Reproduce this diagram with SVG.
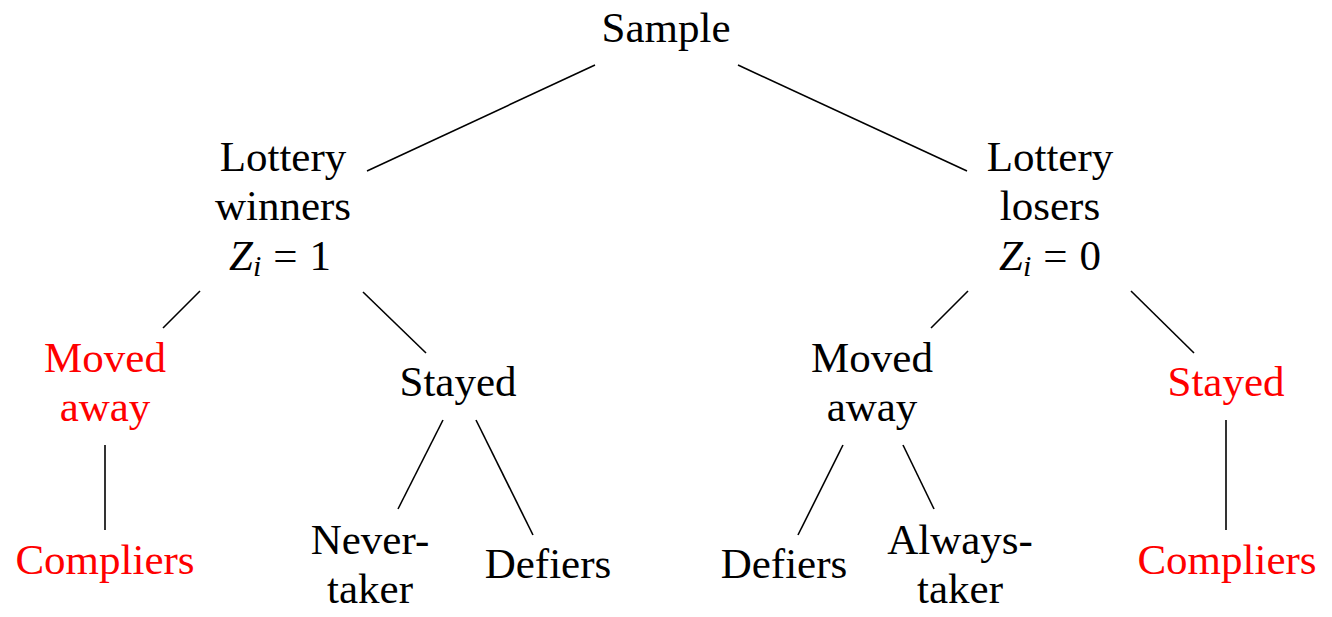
<svg xmlns="http://www.w3.org/2000/svg" width="1332" height="617" viewBox="0 0 1332 617">
<style>
text{font-family:"Liberation Serif","DejaVu Serif",serif;font-size:43px;text-anchor:middle;fill:#000}
.red{fill:#ff0000}
.e line{stroke:#000;stroke-width:1.6}
.m{font-style:italic}
.s{font-size:30px;font-style:italic}
</style>
<rect width="1332" height="617" fill="#fff"/>
<g class="e" id="connectors">
<line x1="595" y1="65" x2="367" y2="171"/>
<line x1="738" y1="65" x2="967" y2="171"/>
<line x1="200" y1="291" x2="163" y2="328"/>
<line x1="363" y1="292" x2="426" y2="353"/>
<line x1="105" y1="445" x2="105" y2="530"/>
<line x1="443" y1="420" x2="398" y2="509"/>
<line x1="476" y1="420" x2="533" y2="535"/>
<line x1="968" y1="291" x2="931" y2="328"/>
<line x1="1131" y1="291" x2="1194" y2="353"/>
<line x1="843" y1="445" x2="798" y2="535"/>
<line x1="903" y1="445" x2="934" y2="509"/>
<line x1="1226" y1="420" x2="1226" y2="530"/>
</g>
<g id="sample"><text x="666" y="42">Sample</text></g>
<g id="winners">
<text x="283" y="171">Lottery</text>
<text x="283" y="220">winners</text>
<text x="280" y="270"><tspan class="m">Z</tspan><tspan class="s" dy="6">i</tspan><tspan dy="-6" dx="12">=</tspan><tspan dx="12">1</tspan></text>
</g>
<g id="losers">
<text x="1050" y="171">Lottery</text>
<text x="1050" y="220">losers</text>
<text x="1050" y="270"><tspan class="m">Z</tspan><tspan class="s" dy="6">i</tspan><tspan dy="-6" dx="12">=</tspan><tspan dx="12">0</tspan></text>
</g>
<g id="moved1"><text class="red" x="105" y="372">Moved</text><text class="red" x="105" y="421">away</text></g>
<g id="stayed1"><text x="458" y="396">Stayed</text></g>
<g id="moved0"><text x="872" y="372">Moved</text><text x="872" y="421">away</text></g>
<g id="stayed0"><text class="red" x="1226" y="396">Stayed</text></g>
<g id="compliers1"><text class="red" x="105" y="574">Compliers</text></g>
<g id="nevertaker"><text x="370" y="554">Never-</text><text x="370" y="603">taker</text></g>
<g id="defiers1"><text x="548" y="578">Defiers</text></g>
<g id="defiers0"><text x="784" y="578">Defiers</text></g>
<g id="alwaystaker"><text x="960" y="554">Always-</text><text x="960" y="603">taker</text></g>
<g id="compliers0"><text class="red" x="1227" y="574">Compliers</text></g>
</svg>
